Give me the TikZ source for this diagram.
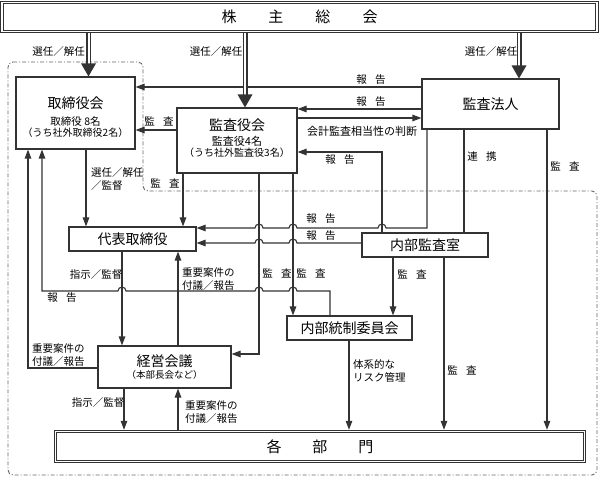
\documentclass[tikz,border=0pt]{standalone}
\usepackage{fontspec}
\setmainfont{Noto Sans CJK JP}
\usetikzlibrary{arrows.meta,calc}
\definecolor{dk}{HTML}{333333}
\newcommand\jsp{\hspace{0.8em}}
\newcommand\dblarw[3]{%
  \draw[dblshaft] (#1.south -| #3,0) -- ($(#2.north -| #3,0)+(0,-12)$);
  \fill[dk] ($(#2.north -| #3,0)+(-7.5,-13)$) -- ($(#2.north -| #3,0)+(7.5,-13)$) -- (#2.north -| #3,0) -- cycle;}
\begin{document}
\begin{tikzpicture}[x=1pt,y=-1pt,
  box/.style={draw=dk, line width=1.1pt, fill=white, inner sep=0pt, font=\fontsize{14}{16}\selectfont},
  dbox/.style={draw=dk, double=white, double distance=1.6pt, line width=0.9pt, inner sep=0pt, outer sep=1.7pt, font=\fontsize{15}{17}\selectfont},
  conn/.style={draw=dk, line width=1.1pt, -{Triangle[length=9pt,width=6.5pt]}},
  plain/.style={draw=dk, line width=1.1pt},
  lbl/.style={inner sep=0pt, font=\fontsize{10.5}{13}\selectfont, text=black},
  lblL/.style={lbl, align=left, anchor=west},
  dblshaft/.style={draw=dk, double=white, double distance=2pt, line width=1.5pt},
  bound/.style={draw=gray!80!black, line width=0.9pt, dash pattern=on 4pt off 2pt on 1pt off 2pt, rounded corners=5pt},
  txt/.style={inner sep=0pt}
]
\useasboundingbox (0,0) rectangle (602,478);
\fill[white] (0,0) rectangle (602,478);

% company boundary
\draw[bound] (8,62) -- (143,62) -- (143,191) -- (597,191) -- (597,475) -- (8,475) -- cycle;

% boxes
\node[dbox, minimum width=595pt, minimum height=29pt] (kabu) at (299.5,17) {株\hspace{32pt}主\hspace{32pt}総\hspace{32pt}会};
\node[dbox, minimum width=529pt, minimum height=30pt] (kakubu) at (320,446.5) {各\hspace{31pt}部\hspace{31pt}門};

\node[box, minimum width=119pt, minimum height=72pt] (tori) at (75.5,113) {};
\node[txt, font=\fontsize{14}{16}\selectfont] (toriT1) at (75.5,103) {取締役会};
\node[lbl] (toriT2) at (75.5,122) {取締役 8名};
\node[lbl, font=\fontsize{10}{12}\selectfont] (toriT3) at (75.5,132.5) {（うち社外取締役2名）};

\node[box, minimum width=120pt, minimum height=65pt] (kansa) at (237,140.5) {};
\node[txt, font=\fontsize{14}{16}\selectfont] (kansaT1) at (237,125) {監査役会};
\node[lbl, font=\fontsize{11}{13}\selectfont] (kansaT2) at (237,141) {監査役4名};
\node[lbl, font=\fontsize{10}{12}\selectfont] (kansaT3) at (237,153) {（うち社外監査役3名）};

\node[box, minimum width=137pt, minimum height=50pt] (hojin) at (490.5,104) {監査法人};
\node[box, minimum width=127pt, minimum height=24pt] (daihyo) at (132.5,239) {代表取締役};
\node[box, minimum width=126pt, minimum height=24pt] (naibu) at (425,245) {内部監査室};
\node[box, minimum width=125pt, minimum height=24pt] (touse) at (349.5,328) {内部統制委員会};

\node[box, minimum width=133pt, minimum height=42pt] (keiei) at (164.5,367) {};
\node[txt, font=\fontsize{14}{16}\selectfont] (keieiT1) at (164.5,361) {経営会議};
\node[lbl, font=\fontsize{9.5}{11}\selectfont] (keieiT2) at (164.5,375) {（本部長会など）};

% connectors
\draw[conn] (hojin.west |- 0,87) -- (tori.east |- 0,87);
\draw[conn] (hojin.west |- 0,109) -- (kansa.east |- 0,109);
\draw[conn] (kansa.east |- 0,118) -- (hojin.west |- 0,118);
\draw[conn] (kansa.west |- 0,130) -- (tori.east |- 0,130);
\draw[conn] (naibu.north -| 382,0) -- (382,152) -- (kansa.east |- 0,152);
\draw[conn] (hojin.south -| 427,0) -- (427,228) -- (386,228)
   arc[start angle=0,end angle=180,radius=4pt] -- (297,228)
   arc[start angle=0,end angle=180,radius=4pt] -- (263,228)
   arc[start angle=0,end angle=180,radius=4pt] -- (daihyo.east |- 0,228);
\draw[conn] (naibu.west |- 0,243) -- (297,243)
   arc[start angle=0,end angle=180,radius=4pt] -- (263,243)
   arc[start angle=0,end angle=180,radius=4pt] -- (daihyo.east |- 0,243);
\draw[conn] (kansa.south -| 183,0) -- (daihyo.north -| 183,0);
\draw[conn] (kansa.south -| 259,0) -- (259,354) -- (keiei.east |- 0,354);
\draw[conn] (kansa.south -| 293,0) -- (touse.north -| 293,0);
\draw[conn] (naibu.south -| 393,0) -- (touse.north -| 393,0);
\draw[conn] (naibu.south -| 444,0) -- (kakubu.north -| 444,0);
\draw[conn] (hojin.south -| 547,0) -- (kakubu.north -| 547,0);
\draw[plain] (hojin.south -| 464,0) -- (naibu.north -| 464,0);
\draw[conn] (tori.south -| 86,0) -- (daihyo.north -| 86,0);
\draw[conn] (touse.north -| 330,0) -- (330,291) -- (297,291)
   arc[start angle=0,end angle=180,radius=4pt] -- (263,291)
   arc[start angle=0,end angle=180,radius=4pt] -- (126,291)
   arc[start angle=0,end angle=180,radius=4pt] -- (42,291) -- (tori.south -| 42,0);
\draw[conn] (keiei.west |- 0,368) -- (28,368) -- (tori.south -| 28,0);
\draw[conn] (daihyo.south -| 122,0) -- (keiei.north -| 122,0);
\draw[conn] (keiei.north -| 178,0) -- (daihyo.south -| 178,0);
\draw[conn] (keiei.south -| 124,0) -- (kakubu.north -| 124,0);
\draw[conn] (kakubu.north -| 178,0) -- (keiei.south -| 178,0);
\draw[conn] (touse.south -| 349,0) -- (kakubu.north -| 349,0);

% double arrows from shareholders
\dblarw{kabu}{tori}{88.5}
\dblarw{kabu}{kansa}{245}
\dblarw{kabu}{hojin}{519}

% labels
\node[lbl] (l1) at (58.5,52) {選任／解任};
\node[lbl] (l2) at (216,52) {選任／解任};
\node[lbl] (l3) at (491,52) {選任／解任};
\node[lbl] (l4) at (371,80) {報\jsp 告};
\node[lbl] (l5) at (371,102) {報\jsp 告};
\node[lbl, font=\fontsize{11}{13}\selectfont] (l6) at (362,131) {会計監査相当性の判断};
\node[lbl] (l7) at (159,121) {監\jsp 査};
\node[lbl] (l8) at (340,160) {報\jsp 告};
\node[lbl] (l9) at (482,157) {連\jsp 携};
\node[lbl] (l10) at (565,166) {監\jsp 査};
\node[lblL] (l11) at (91,179) {選任／解任\\／監督};
\node[lbl] (l12) at (165,183) {監\jsp 査};
\node[lbl] (l13) at (321,219) {報\jsp 告};
\node[lbl] (l14) at (321,236) {報\jsp 告};
\node[lbl] (l15) at (96,275) {指示／監督};
\node[lblL] (l16) at (182,279) {重要案件の\\付議／報告};
\node[lbl] (l17) at (277,273) {監\jsp 査};
\node[lbl] (l18) at (311,273) {監\jsp 査};
\node[lbl] (l19) at (412,274) {監\jsp 査};
\node[lbl] (l20) at (62,298) {報\jsp 告};
\node[lblL] (l21) at (32,355) {重要案件の\\付議／報告};
\node[lblL] (l22) at (353,370.5) {体系的な\\リスク管理};
\node[lbl] (l23) at (462,370) {監\jsp 査};
\node[lbl] (l24) at (98,403) {指示／監督};
\node[lblL] (l25) at (185,412.5) {重要案件の\\付議／報告};
\end{tikzpicture}
\end{document}
